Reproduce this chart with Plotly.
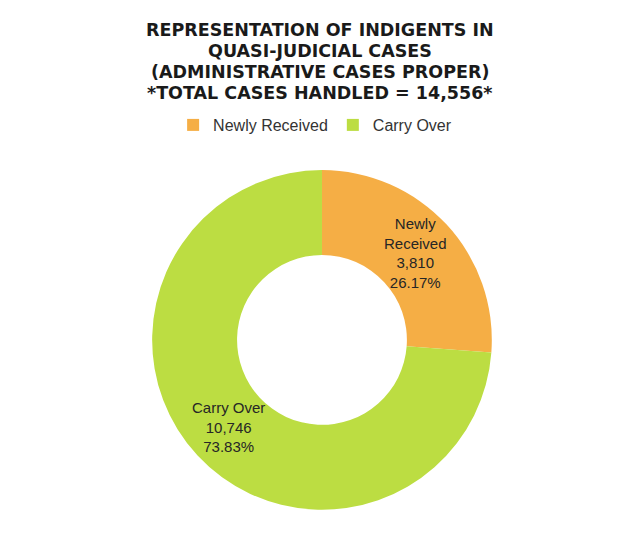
import math
import plotly.graph_objects as go

# Case counts by category
categories = ["Newly Received", "Carry Over"]
case_counts = [3810, 10746]
shares = ["26.17%", "73.83%"]
label_lines = ["Newly<br>Received", "Carry Over"]
slice_colors = ["#F5AE45", "#BCDD42"]

title_lines = [
    "REPRESENTATION OF INDIGENTS IN",
    "QUASI-JUDICIAL CASES",
    "(ADMINISTRATIVE CASES PROPER)",
    "*TOTAL CASES HANDLED = 14,556*",
]

W, H = 624, 540
HOLE = 0.5
DOMAIN_X = [0.032, 1.0]
DOMAIN_Y = [0.056, 0.685]
FONT = "Liberation Sans, Arial, sans-serif"

fig = go.Figure(
    go.Pie(
        labels=categories,
        values=case_counts,
        textinfo="none",
        hole=HOLE,
        sort=False,
        direction="clockwise",
        rotation=0,
        marker=dict(colors=slice_colors, line=dict(width=0)),
        domain=dict(x=DOMAIN_X, y=DOMAIN_Y),
    )
)

# Slice labels sit on each slice's bisector, midway across the ring
cx = (DOMAIN_X[0] + DOMAIN_X[1]) / 2 * W
cy = (DOMAIN_Y[0] + DOMAIN_Y[1]) / 2 * H
r_out = min((DOMAIN_X[1] - DOMAIN_X[0]) * W, (DOMAIN_Y[1] - DOMAIN_Y[0]) * H) / 2
r_mid = r_out * (1 + HOLE) / 2
total = sum(case_counts)
cum = 0
for lab, n, p in zip(label_lines, case_counts, shares):
    ang = 2 * math.pi * (cum + n / 2) / total
    cum += n
    px = cx + r_mid * math.sin(ang)
    py = cy + r_mid * math.cos(ang)
    fig.add_annotation(
        x=px / W, y=py / H, xref="paper", yref="paper",
        text=f"{lab}<br>{n:,}<br>{p}",
        showarrow=False, xanchor="center", yanchor="middle",
        font=dict(family=FONT, size=15, color="#262626"),
    )

# Title lines
for i, line in enumerate(title_lines):
    fig.add_annotation(
        x=0.513, y=1 - (30 + 21 * i) / H, xref="paper", yref="paper",
        text=f"<b>{line}</b>", showarrow=False,
        xanchor="center", yanchor="middle",
        font=dict(family="DejaVu Sans, sans-serif", size=17.5, color="#1a1a1a"),
    )

fig.update_layout(
    width=W,
    height=H,
    margin=dict(l=0, r=0, t=0, b=0),
    paper_bgcolor="white",
    plot_bgcolor="white",
    legend=dict(
        orientation="h",
        x=0.505,
        xanchor="center",
        y=1 - 125 / H,
        yanchor="middle",
        font=dict(family=FONT, size=16, color="#333333"),
        itemwidth=30,
    ),
)

fig.write_html("out.html")
